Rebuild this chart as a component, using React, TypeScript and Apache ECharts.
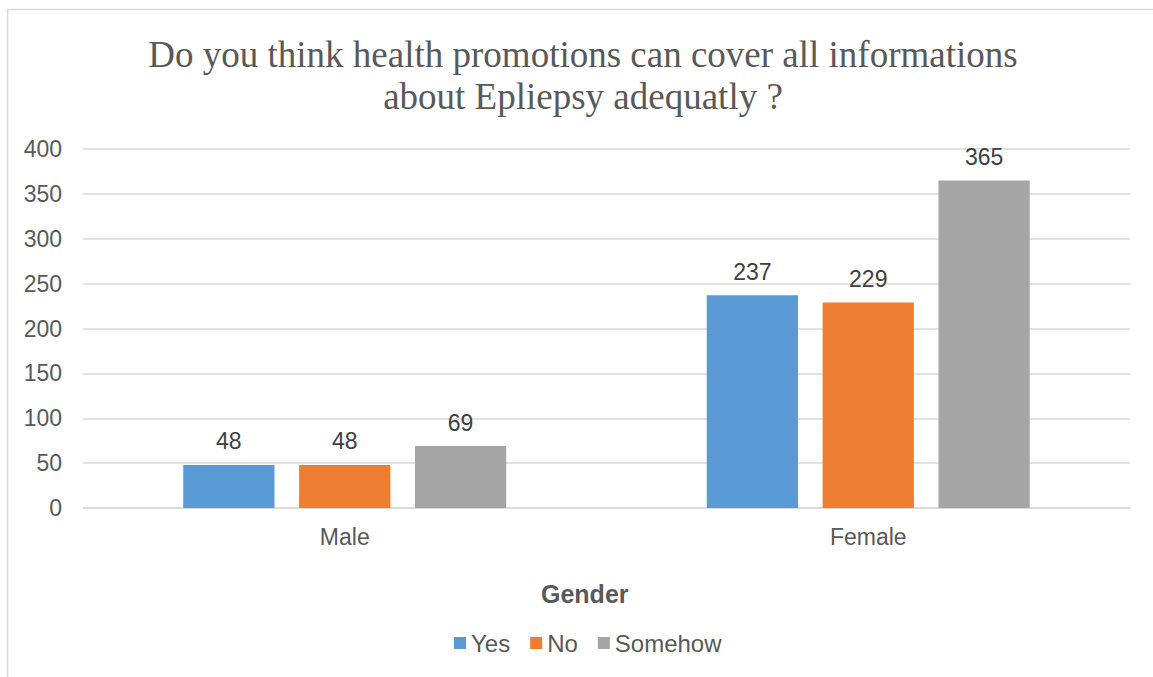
import React, { useEffect, useRef } from "react";
import * as echarts from "echarts";

const titleLines = ["Do you think health promotions can cover all informations", "about Epliepsy adequatly ?"];
const categories = ["Male", "Female"];
const seriesNames = ["Yes", "No", "Somehow"];
const yesValues = [48, 237];
const noValues = [48, 229];
const somehowValues = [69, 365];
const colors = ["#5B9BD5", "#ED7D31", "#A5A5A5"];
const axisName = "Gender";

export default function App() {
  const ref = useRef<HTMLDivElement>(null);
  useEffect(() => {
    if (!ref.current) return;
    const chart = echarts.init(ref.current, undefined, { renderer: "svg" });
    const data = [yesValues, noValues, somehowValues];
    const sans = "'Liberation Sans', Arial, sans-serif";
    chart.setOption({
      animation: false,
      backgroundColor: "#ffffff",
      title: {
        text: titleLines.join("\n"),
        left: 578,
        top: 28,
        textAlign: "center",
        textStyle: {
          fontFamily: "'Liberation Serif', 'Times New Roman', serif",
          fontSize: 37,
          fontWeight: "normal",
          color: "#595959",
          lineHeight: 42,
        },
      },
      graphic: [
        {
          type: "rect",
          shape: { x: 7.5, y: 9.5, width: 1160, height: 700 },
          style: { fill: "none", stroke: "#d9d9d9", lineWidth: 1.5 },
          silent: true,
          z: -1,
        },
        {
          type: "text",
          left: 541,
          top: 581,
          style: {
            text: axisName,
            fontFamily: sans,
            fontSize: 25,
            fontWeight: "bold",
            fill: "#595959",
          },
        },
      ],
      legend: {
        data: seriesNames,
        left: 449,
        top: 626,
        itemWidth: 12,
        itemHeight: 12,
        itemGap: 20,
        icon: "rect",
        textStyle: { fontFamily: sans, fontSize: 24, color: "#595959" },
      },
      grid: { left: 83, right: 23, top: 149, bottom: 169 },
      xAxis: {
        type: "category",
        data: categories,
        axisLine: { lineStyle: { color: "#d9d9d9", width: 1.5 } },
        axisTick: { show: false },
        axisLabel: { fontFamily: sans, fontSize: 23, color: "#595959", margin: 17 },
      },
      yAxis: {
        type: "value",
        min: 0,
        max: 400,
        interval: 50,
        axisLine: { show: false },
        axisTick: { show: false },
        splitLine: { lineStyle: { color: "#d9d9d9", width: 1.5 } },
        axisLabel: { fontFamily: sans, fontSize: 23, color: "#595959", margin: 21 },
      },
      series: seriesNames.map((name, i) => ({
        name,
        type: "bar",
        data: data[i],
        barGap: "27%",
        barCategoryGap: "38.3%",
        itemStyle: { color: colors[i] },
        label: {
          show: true,
          position: "top",
          distance: 12,
          fontFamily: sans,
          fontSize: 23,
          color: "#404040",
        },
      })),
    });
    return () => chart.dispose();
  }, []);
  return (
    <div
      ref={ref}
      style={{ position: "fixed", left: 0, top: 0, width: 1153, height: 677 }}
    />
  );
}
